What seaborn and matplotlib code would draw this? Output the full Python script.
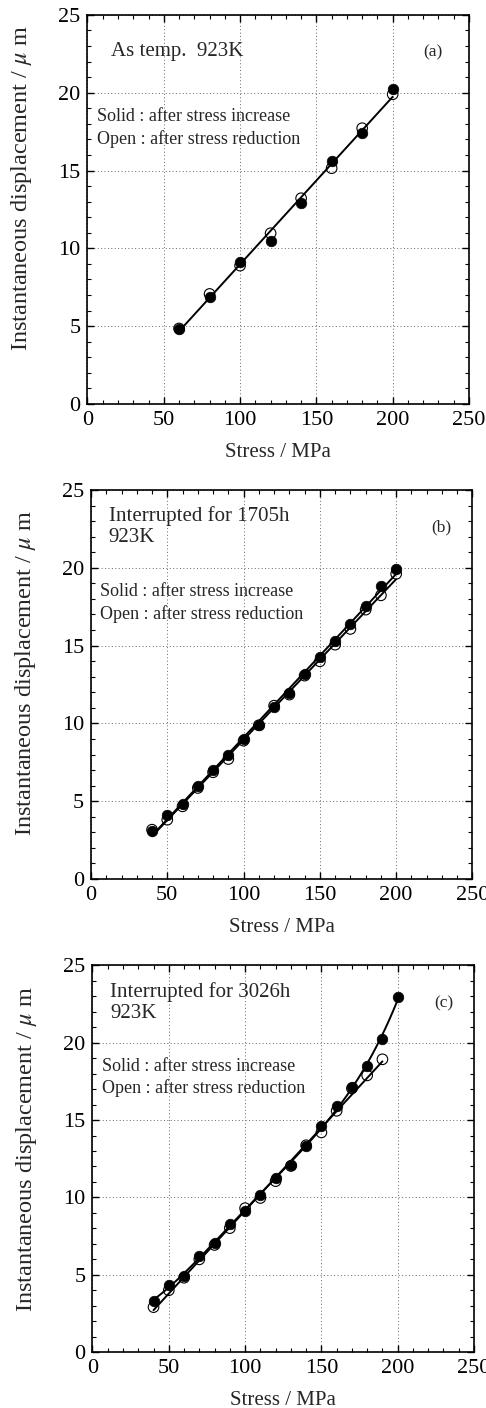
import numpy as np
import pandas as pd
import matplotlib
matplotlib.use("Agg")
import matplotlib.pyplot as plt
from matplotlib.ticker import MultipleLocator
import seaborn as sns

# ---- data -------------------------------------------------------------
# (a) as tempered, 923 K
stress_a = [60, 80, 100, 120, 140, 160, 180, 200]
solid_a = [4.82, 6.90, 9.15, 10.50, 12.90, 15.62, 17.40, 20.22]
open_a = [4.85, 7.07, 8.89, 10.97, 13.22, 15.15, 17.72, 19.90]

# (b) interrupted for 1705 h
stress_b = [40, 50, 60, 70, 80, 90, 100, 110, 120, 130, 140, 150, 160, 170, 180, 190, 200]
solid_b = [3.11, 4.09, 4.82, 6.00, 7.03, 7.95, 9.00, 9.92, 11.03, 11.96,
           13.18, 14.25, 15.28, 16.41, 17.57, 18.86, 19.93]
open_b = [3.17, 3.81, 4.67, 5.85, 6.86, 7.71, 8.89, 9.88, 11.14, 11.85,
          13.07, 13.99, 15.06, 16.07, 17.31, 18.23, 19.61]

# (c) interrupted for 3026 h
stress_c_solid = [40, 50, 60, 70, 80, 90, 100, 110, 120, 130, 140, 150, 160, 170, 180, 190, 200]
solid_c = [3.30, 4.36, 4.91, 6.23, 7.03, 8.27, 9.14, 10.18, 11.27, 12.09,
           13.33, 14.63, 15.93, 17.13, 18.50, 20.23, 22.99]
stress_c_open = [40, 50, 60, 70, 80, 90, 100, 110, 120, 130, 140, 150, 160, 170, 180, 190]
open_c = [2.90, 3.99, 4.80, 5.99, 6.92, 8.01, 9.30, 9.96, 11.05, 12.03,
          13.37, 14.20, 15.60, 17.05, 17.89, 18.93]

panel_titles = ["As temp.  923K", "Interrupted for 1705h\n923K", "Interrupted for 3026h\n923K"]
panel_tags = ["(a)", "(b)", "(c)"]
note_lines = ["Solid : after stress increase", "Open : after stress reduction"]
x_label = "Stress / MPa"
y_label = "Instantaneous displacement / $\\mu$ m"

# ---- style ------------------------------------------------------------
sns.set_theme(style="ticks")
plt.rcParams["font.family"] = ["Liberation Serif", "DejaVu Serif"]
plt.rcParams["mathtext.fontset"] = "stix"
plt.rcParams["axes.linewidth"] = 1.2

fig = plt.figure(figsize=(4.86, 14.08), dpi=100)
axes_rects = [
    [0.180, 0.7131, 0.785, 0.2763],
    [0.1872, 0.3757, 0.785, 0.2763],
    [0.1903, 0.0398, 0.785, 0.2745],
]

panels = [
    dict(solid=pd.DataFrame({"stress": stress_a, "disp": solid_a}),
         open=pd.DataFrame({"stress": stress_a, "disp": open_a}),
         combined=True, order_solid=1, order_open=1,
         title_x=0.062, note_x=0.026, tag_x=0.906, ylab_y=0.555),
    dict(solid=pd.DataFrame({"stress": stress_b, "disp": solid_b}),
         open=pd.DataFrame({"stress": stress_b, "disp": open_b}),
         combined=False, order_solid=1, order_open=1,
         title_x=0.046, note_x=0.024, tag_x=0.919, ylab_y=0.53),
    dict(solid=pd.DataFrame({"stress": stress_c_solid, "disp": solid_c}),
         open=pd.DataFrame({"stress": stress_c_open, "disp": open_c}),
         combined=False, order_solid=4, order_open=1,
         title_x=0.046, note_x=0.026, tag_x=0.92, ylab_y=0.525),
]

line_kws = dict(color="black", lw=1.4)

for rect, p, title, tag in zip(axes_rects, panels, panel_titles, panel_tags):
    ax = fig.add_axes(rect)

    # fitted curves
    if p["combined"]:
        both = pd.concat([p["solid"], p["open"]], ignore_index=True)
        sns.regplot(data=both, x="stress", y="disp", order=1, ci=None,
                    scatter=False, truncate=True, line_kws=line_kws, ax=ax)
    else:
        sns.regplot(data=p["open"], x="stress", y="disp", order=p["order_open"],
                    ci=None, scatter=False, truncate=True, line_kws=line_kws, ax=ax)
        sns.regplot(data=p["solid"], x="stress", y="disp", order=p["order_solid"],
                    ci=None, scatter=False, truncate=True, line_kws=line_kws, ax=ax)

    # measured points
    sns.scatterplot(data=p["open"], x="stress", y="disp", marker="o", s=58,
                    facecolor="none", edgecolor="black", linewidth=0.8,
                    ax=ax, zorder=3)
    sns.scatterplot(data=p["solid"], x="stress", y="disp", marker="o", s=58,
                    color="black", edgecolor="black", linewidth=0.5,
                    ax=ax, zorder=4)

    ax.set_xlim(0, 250)
    ax.set_ylim(0, 25)
    ax.xaxis.set_major_locator(MultipleLocator(50))
    ax.xaxis.set_minor_locator(MultipleLocator(10))
    ax.yaxis.set_major_locator(MultipleLocator(5))
    ax.yaxis.set_minor_locator(MultipleLocator(1))
    ax.tick_params(which="both", direction="in", top=True, right=True,
                   colors="black", labelsize=16)
    ax.tick_params(which="major", length=5, width=1.0)
    ax.tick_params(which="minor", length=3, width=0.8)
    ax.tick_params(axis="x", pad=5)
    ax.tick_params(axis="y", pad=5)
    ax.grid(True, which="major", linestyle=(0, (1, 2.5)), color="#666666", lw=0.7)
    for s in ax.spines.values():
        s.set_color("black")

    ax.set_xlabel(x_label, fontsize=15)
    ax.xaxis.set_label_coords(0.5, -0.10)
    ax.set_ylabel(y_label, fontsize=17.5)
    ax.yaxis.set_label_coords(-0.14, p["ylab_y"])

    ax.text(p["title_x"], 0.905, title, transform=ax.transAxes, fontsize=15,
            ha="left", va="center", linespacing=1.15)
    ax.text(p["tag_x"], 0.903, tag, transform=ax.transAxes, fontsize=12.5,
            ha="center", va="center")
    ax.text(p["note_x"], 0.738, note_lines[0], transform=ax.transAxes,
            fontsize=13, ha="left", va="center")
    ax.text(p["note_x"], 0.682, note_lines[1], transform=ax.transAxes,
            fontsize=13, ha="left", va="center")

fig.savefig("out.png", dpi=100)
